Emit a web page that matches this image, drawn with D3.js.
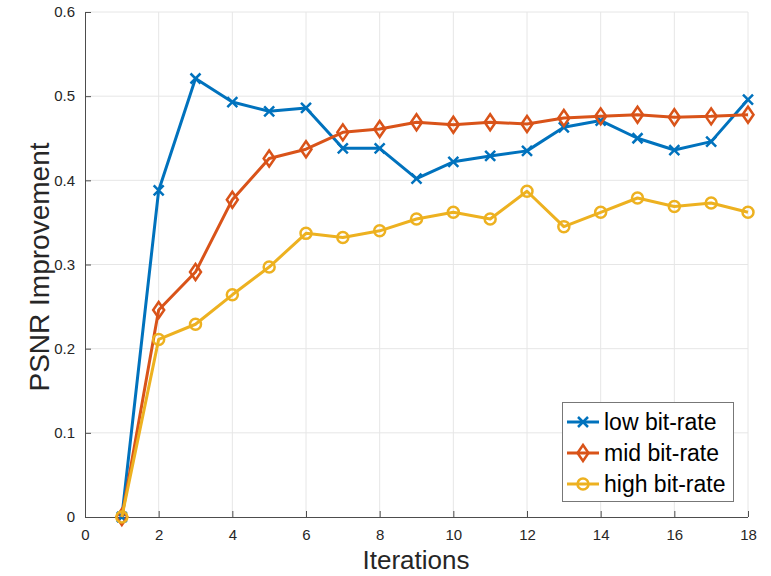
<!DOCTYPE html>
<meta charset="utf-8">
<style>
body { margin: 0; background: #fff; }
text { font-family: "Liberation Sans", Arial, sans-serif; fill: #262626; }
.grid line { stroke: #e6e6e6; stroke-width: 1px; }
.axis path, .axis line { stroke: #4d4d4d; }
</style>
<svg width="771" height="576"></svg>
<script src="https://cdn.jsdelivr.net/npm/d3@7"></script>
<script>

var iterations = d3.range(1, 19);
var lowRate  = [0, 0.388, 0.521, 0.493, 0.482, 0.486, 0.438, 0.438, 0.402, 0.422, 0.429, 0.435, 0.463, 0.471, 0.450, 0.436, 0.446, 0.496];
var midRate  = [0, 0.246, 0.291, 0.377, 0.426, 0.437, 0.457, 0.461, 0.469, 0.466, 0.469, 0.467, 0.474, 0.476, 0.478, 0.475, 0.476, 0.478];
var highRate = [0, 0.211, 0.229, 0.264, 0.297, 0.337, 0.332, 0.340, 0.354, 0.362, 0.354, 0.387, 0.345, 0.362, 0.379, 0.369, 0.373, 0.362];
var xTicks = d3.range(0, 19, 2);
var yTicks = [0, 0.1, 0.2, 0.3, 0.4, 0.5, 0.6];

var series = [
  {name: "low bit-rate", values: lowRate, color: "#0072BD", marker: "x"},
  {name: "mid bit-rate", values: midRate, color: "#D95319", marker: "diamond"},
  {name: "high bit-rate", values: highRate, color: "#EDB120", marker: "circle"}
];

var svg = d3.select("svg"),
    margin = {top: 12, right: 23, bottom: 59, left: 85},
    width = 771 - margin.left - margin.right,
    height = 576 - margin.top - margin.bottom,
    g = svg.append("g").attr("transform", "translate(" + margin.left + "," + margin.top + ")");

var x = d3.scaleLinear().domain([0, 18]).range([0, width]),
    y = d3.scaleLinear().domain([0, 0.6]).range([height, 0]);

// grid
g.append("g").attr("class", "grid")
  .selectAll("line.v").data(xTicks.slice(1)).enter().append("line")
    .attr("x1", function(d) { return x(d); }).attr("x2", function(d) { return x(d); })
    .attr("y1", 0).attr("y2", height);
g.select(".grid")
  .selectAll("line.h").data(yTicks.slice(1)).enter().append("line")
    .attr("y1", function(d) { return y(d); }).attr("y2", function(d) { return y(d); })
    .attr("x1", 0).attr("x2", width);

// axes, ticks pointing inward
var xAxis = g.append("g")
    .attr("class", "axis")
    .attr("transform", "translate(0," + height + ")")
    .call(d3.axisBottom(x).tickValues(xTicks).tickSizeInner(-6).tickSizeOuter(0).tickPadding(12));
var yAxis = g.append("g")
    .attr("class", "axis")
    .call(d3.axisLeft(y).tickValues(yTicks).tickSizeInner(-6).tickSizeOuter(0).tickPadding(10)
      .tickFormat(function(d) { return d === 0 ? "0" : d3.format(".1f")(d); }));
g.selectAll(".axis text").style("font-size", "15px").style("fill", "#262626")
  .style("font-family", "'Liberation Sans', Arial, sans-serif");
xAxis.select(".domain").attr("d", "M0,0.5H" + width);
yAxis.select(".domain").attr("d", "M0.5," + height + "V0");

// axis titles
svg.append("text")
    .attr("x", 416).attr("y", 569)
    .attr("text-anchor", "middle")
    .style("font-size", "26px")
    .text("Iterations");
svg.append("text")
    .attr("transform", "translate(49,267) rotate(-90)")
    .attr("text-anchor", "middle")
    .style("font-size", "28px")
    .text("PSNR Improvement");

var line = d3.line()
    .x(function(d, i) { return x(iterations[i]); })
    .y(function(d) { return y(d); });

function drawMarker(sel, type, color) {
  if (type === "x") {
    sel.append("path")
      .attr("d", "M-5,-5L5,5M-5,5L5,-5")
      .attr("stroke", color).attr("stroke-width", 2.5).attr("fill", "none");
  } else if (type === "diamond") {
    sel.append("path")
      .attr("d", "M0,-8L5.5,0L0,8L-5.5,0Z")
      .attr("stroke", color).attr("stroke-width", 2.5).attr("fill", "none");
  } else {
    sel.append("circle").attr("r", 5.5)
      .attr("stroke", color).attr("stroke-width", 2.5).attr("fill", "none");
  }
}

series.forEach(function(s) {
  g.append("path")
    .datum(s.values)
    .attr("fill", "none")
    .attr("stroke", s.color)
    .attr("stroke-width", 3)
    .attr("stroke-linejoin", "round")
    .attr("d", line);
  g.selectAll(null).data(s.values).enter().append("g")
    .attr("transform", function(d, i) { return "translate(" + x(iterations[i]) + "," + y(d) + ")"; })
    .each(function() { drawMarker(d3.select(this), s.marker, s.color); });
});

// legend
var legend = svg.append("g").attr("transform", "translate(562,402)");
legend.append("rect")
    .attr("x", 0.5).attr("y", 0.5).attr("width", 171).attr("height", 99)
    .attr("fill", "#fff").attr("stroke", "#777").attr("stroke-width", 1);
series.forEach(function(s, i) {
  var row = legend.append("g").attr("transform", "translate(0," + (20 + i * 31) + ")");
  row.append("line").attr("x1", 5).attr("x2", 37).attr("y1", 0).attr("y2", 0)
    .attr("stroke", s.color).attr("stroke-width", 3);
  var m = row.append("g").attr("transform", "translate(21,0)");
  drawMarker(m, s.marker, s.color);
  row.append("text").attr("x", 42).attr("y", 8)
    .style("font-size", "23px").style("fill", "#000")
    .text(s.name);
});

</script>
